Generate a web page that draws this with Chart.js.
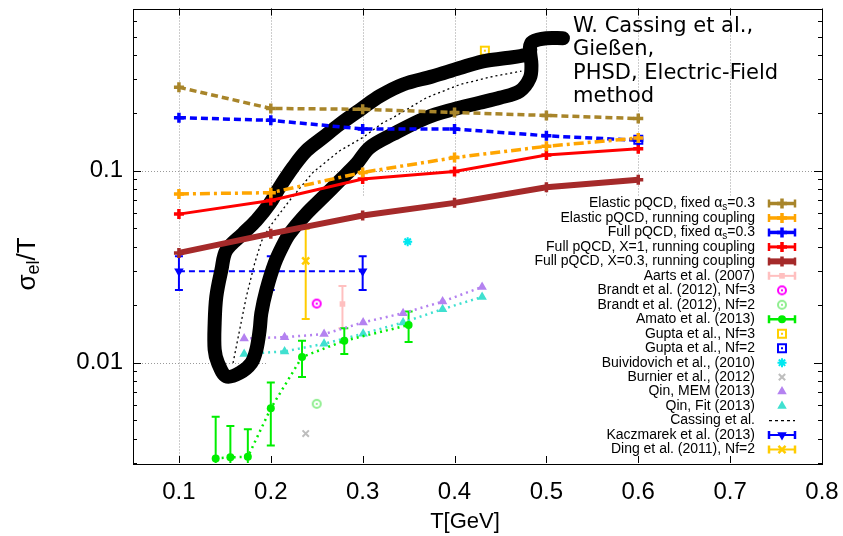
<!DOCTYPE html>
<html><head><meta charset="utf-8">
<script src="https://cdn.jsdelivr.net/npm/chart.js@4/dist/chart.umd.min.js"></script>
<style>html,body{margin:0;padding:0;background:#fff}#wrap{width:843px;height:536px}</style>
</head><body><div id="wrap"><canvas id="c" width="843" height="536"></canvas></div>
<script>
// Axis ticks
const xTicks = [0.1, 0.2, 0.3, 0.4, 0.5, 0.6, 0.7, 0.8];
const yTicks = [0.01, 0.1];

// pQCD curves
const pqcdT = [0.1, 0.2, 0.3, 0.4, 0.5, 0.6];
const elasticFixed   = [0.272, 0.211, 0.209, 0.201, 0.194, 0.187];
const elasticRunning = [0.0757, 0.0768, 0.098, 0.117, 0.134, 0.148];
const fullFixed      = [0.189, 0.183, 0.165, 0.165, 0.152, 0.144];
const fullX1         = [0.0594, 0.0699, 0.0906, 0.099, 0.1206, 0.130];
const fullX03        = [0.0373, 0.047, 0.0584, 0.068, 0.082, 0.0898];

// Lattice and other results
const aartsT = [0.278], aartsV = [0.0202], aartsLo = [0.0151], aartsHi = [0.0251];
const brandt3T = [0.25], brandt3V = [0.0203];
const brandt2T = [0.25], brandt2V = [0.0061];
const amatoT  = [0.14, 0.156, 0.175, 0.2, 0.234, 0.28, 0.35];
const amatoV  = [0.00317, 0.00321, 0.00323, 0.00578, 0.0107, 0.0130, 0.0157];
const amatoLo = [0.001, 0.001, 0.001, 0.0037, 0.00843, 0.0111, 0.0128];
const amatoHi = [0.00523, 0.00468, 0.0045, 0.00788, 0.0130, 0.0151, 0.01845];
const gupta3T = [0.433], gupta3V = [0.422];
const gupta2T = [0.6], gupta2V = [0.145];
const buiviT = [0.349], buiviV = [0.0427];
const burnierT = [0.238], burnierV = [0.00427];
const qinT = [0.171, 0.215, 0.258, 0.3005, 0.344, 0.387, 0.43];
const qinMem = [0.01336, 0.01358, 0.01408, 0.0162, 0.0181, 0.0208, 0.0248];
const qinFit = [0.0111, 0.01144, 0.01254, 0.01413, 0.0162, 0.019, 0.022];
const cassingT = [0.1589, 0.1661, 0.1734, 0.1824, 0.19, 0.1987, 0.2205, 0.2459, 0.275, 0.3003, 0.3222, 0.333, 0.3694, 0.4056, 0.4419, 0.4728];
const cassingV = [0.00996, 0.01483, 0.0221, 0.0329, 0.043, 0.051, 0.07, 0.098, 0.127, 0.149, 0.178, 0.189, 0.24, 0.281, 0.31, 0.33];
const kaczT = [0.1, 0.2, 0.3], kaczV = [0.0299, 0.0299, 0.0299], kaczLo = [0.0239, 0.0239, 0.0239], kaczHi = [0.0358, 0.0358, 0.0358];
const dingT = [0.238], dingV = [0.0339], dingLo = [0.0169], dingHi = [0.0499];

// PHSD electric-field band (outline, tail first)
const bandT = [0.518, 0.5, 0.485, 0.482, 0.4837, 0.482, 0.471, 0.4492, 0.4274, 0.3983, 0.3694, 0.333, 0.3076, 0.2931, 0.275, 0.2568, 0.2387, 0.2205, 0.2132, 0.2042, 0.1952, 0.1897, 0.1879, 0.1843, 0.1788, 0.1661, 0.1516, 0.1425, 0.1389, 0.1389, 0.1407, 0.1462, 0.1516, 0.1697, 0.1843, 0.1987, 0.2096, 0.2241, 0.2387, 0.2568, 0.275, 0.3003, 0.3185, 0.3439, 0.3765, 0.4056, 0.431, 0.4564, 0.4782, 0.4825];
const bandV = [0.49, 0.49, 0.47, 0.435, 0.357, 0.304, 0.26, 0.24, 0.226, 0.2087, 0.1889, 0.155, 0.132, 0.1083, 0.0888, 0.0727, 0.0597, 0.047, 0.0409, 0.0329, 0.0239, 0.0181, 0.01483, 0.01168, 0.00996, 0.00884, 0.00849, 0.00996, 0.01168, 0.0161, 0.0221, 0.0303, 0.0385, 0.047, 0.0551, 0.0672, 0.082, 0.104, 0.127, 0.1488, 0.1746, 0.2128, 0.2446, 0.2813, 0.3106, 0.343, 0.3715, 0.3864, 0.4025, 0.425];

const annotationLines = ['W. Cassing et al.,', 'Gießen,', 'PHSD, Electric-Field', 'method'];

const pts = (xs, ys) => xs.map((x, i) => ({x: x, y: ys[i]}));

function ringMarker(color, square) {
  const c = document.createElement('canvas');
  c.width = 12; c.height = 12;
  const g = c.getContext('2d');
  g.strokeStyle = color; g.fillStyle = color; g.lineWidth = 2;
  if (square) { g.strokeRect(2, 2, 8, 8); }
  else { g.beginPath(); g.arc(6, 6, 4, 0, Math.PI * 2); g.stroke(); }
  g.fillRect(5, 5, 2, 2);
  return c;
}

const FONT = "'Liberation Sans', Arial, Helvetica, sans-serif";

function lineSet(label, xs, ys, color, width, dash, extra) {
  return Object.assign({
    label: label, data: pts(xs, ys), showLine: true,
    borderColor: color, backgroundColor: color, borderWidth: width, borderDash: dash,
    pointStyle: 'cross', pointRadius: 5, pointBorderWidth: 3.5,
    pointBorderColor: color, pointBackgroundColor: color,
    keyLine: true, keyCaps: true, order: 0
  }, extra || {});
}
function markSet(label, xs, ys, color, style, radius, bw, extra) {
  return Object.assign({
    label: label, data: pts(xs, ys), showLine: false,
    borderColor: color, backgroundColor: color,
    pointStyle: style, pointRadius: radius, pointBorderWidth: bw,
    pointBorderColor: color, pointBackgroundColor: color,
    keyLine: false, keyCaps: false, order: 2
  }, extra || {});
}

const datasets = [
  lineSet('Elastic pQCD, fixed α_{s}=0.3', pqcdT, elasticFixed, '#a8852a', 3.5, [7, 4]),
  lineSet('Elastic pQCD, running coupling', pqcdT, elasticRunning, '#ffa500', 3.5, [10, 4, 3, 4]),
  lineSet('Full pQCD, fixed α_{s}=0.3', pqcdT, fullFixed, '#0000ff', 3.5, [7, 4]),
  lineSet('Full pQCD, X=1, running coupling', pqcdT, fullX1, '#ff0000', 3, []),
  lineSet('Full pQCD, X=0.3, running coupling', pqcdT, fullX03, '#a52a2a', 6, []),
  markSet('Aarts et al. (2007)', aartsT, aartsV, '#ffc0c0', 'rect', 4, 0, {errLo: aartsLo, errHi: aartsHi, keyLine: true, keyCaps: true}),
  markSet('Brandt et al. (2012), Nf=3', brandt3T, brandt3V, '#ff00ff', ringMarker('#ff00ff', false), 5, 0),
  markSet('Brandt et al. (2012), Nf=2', brandt2T, brandt2V, '#90ee90', ringMarker('#90ee90', false), 5, 0),
  markSet('Amato et al. (2013)', amatoT, amatoV, '#00ee00', 'circle', 4, 0,
          {showLine: true, borderWidth: 2.5, borderDash: [2, 4], errLo: amatoLo, errHi: amatoHi, keyLine: true, keyCaps: true}),
  markSet('Gupta et al., Nf=3', gupta3T, gupta3V, '#ffd000', ringMarker('#ffd000', true), 5, 0),
  markSet('Gupta et al., Nf=2', gupta2T, gupta2V, '#0000ff', ringMarker('#0000ff', true), 5, 0),
  markSet('Buividovich et al., (2010)', buiviT, buiviV, '#00e8f0', 'star', 4.5, 2),
  markSet('Burnier et al., (2012)', burnierT, burnierV, '#bebebe', 'crossRot', 4.5, 2),
  markSet('Qin, MEM (2013)', qinT, qinMem, '#b482f0', 'triangle', 5.5, 0,
          {showLine: true, borderWidth: 2.5, borderDash: [2, 4]}),
  markSet('Qin, Fit (2013)', qinT, qinFit, '#40e0d0', 'triangle', 5.5, 0,
          {showLine: true, borderWidth: 2.5, borderDash: [2, 4]}),
  {label: 'Cassing et al.', data: pts(cassingT, cassingV), showLine: true, borderColor: '#000',
   borderWidth: 1.3, borderDash: [2, 3], pointRadius: 0, keyLine: true, keyCaps: false, keyDotted: true, order: 0},
  markSet('Kaczmarek et al. (2013)', kaczT, kaczV, '#0000ff', 'triangle', 5.5, 0,
          {showLine: true, borderWidth: 2, borderDash: [6, 4], pointRotation: 180, errLo: kaczLo, errHi: kaczHi, keyLine: true, keyCaps: true}),
  markSet('Ding et al. (2011), Nf=2', dingT, dingV, '#ffcc00', 'crossRot', 5, 2.5,
          {errLo: dingLo, errHi: dingHi, keyLine: true, keyCaps: true}),
  {label: 'PHSD band', data: pts(bandT, bandV), showLine: true, borderColor: '#000', borderWidth: 14,
   borderCapStyle: 'round', borderJoinStyle: 'round', tension: 0.35, pointRadius: 0, noKey: true, order: 1}
];

// key box region (opaque background of the key, hides grid beneath it)
const KEY_BOX = {left: 268, top: 197};

function drawRich(ctx, text, xRight, y, size) {
  const parts = [];
  const re = /_\{([^}]*)\}/g; let last = 0, m;
  while ((m = re.exec(text))) { parts.push({t: text.slice(last, m.index), sub: false}); parts.push({t: m[1], sub: true}); last = re.lastIndex; }
  parts.push({t: text.slice(last), sub: false});
  const subSize = Math.round(size * 0.72);
  let w = 0;
  parts.forEach(p => { ctx.font = (p.sub ? subSize : size) + 'px ' + FONT; p.w = ctx.measureText(p.t).width; w += p.w; });
  let x = xRight - w;
  ctx.textAlign = 'left'; ctx.textBaseline = 'middle';
  parts.forEach(p => { ctx.font = (p.sub ? subSize : size) + 'px ' + FONT; ctx.fillText(p.t, x, y + (p.sub ? size * 0.3 : 0)); x += p.w; });
}

const framePlugin = {
  id: 'frame',
  beforeDatasetsDraw(chart) {
    const {ctx, chartArea: a, scales: {x, y}} = chart;
    ctx.save();
    ctx.strokeStyle = '#9a9a9a'; ctx.lineWidth = 1; ctx.setLineDash([1, 2]);
    xTicks.forEach(v => { const px = Math.round(x.getPixelForValue(v)) + 0.5; if (px < a.right - 1) { ctx.beginPath(); ctx.moveTo(px, a.top); ctx.lineTo(px, a.bottom); ctx.stroke(); } });
    yTicks.forEach(v => { const py = Math.round(y.getPixelForValue(v)) + 0.5; ctx.beginPath(); ctx.moveTo(a.left, py); ctx.lineTo(a.right, py); ctx.stroke(); });
    ctx.setLineDash([]);
    ctx.fillStyle = '#fff';
    ctx.fillRect(KEY_BOX.left, KEY_BOX.top, a.right - KEY_BOX.left, a.bottom - KEY_BOX.top);
    // error bars
    ctx.beginPath(); ctx.rect(a.left, a.top, a.right - a.left, a.bottom - a.top); ctx.clip();
    chart.data.datasets.forEach((ds, i) => {
      if (!ds.errLo) return;
      const meta = chart.getDatasetMeta(i);
      ctx.strokeStyle = ds.borderColor; ctx.lineWidth = 2;
      meta.data.forEach((el, j) => {
        const y0 = y.getPixelForValue(ds.errLo[j]), y1 = y.getPixelForValue(ds.errHi[j]);
        ctx.beginPath(); ctx.moveTo(el.x, y0); ctx.lineTo(el.x, y1);
        ctx.moveTo(el.x - 4, y0); ctx.lineTo(el.x + 4, y0);
        ctx.moveTo(el.x - 4, y1); ctx.lineTo(el.x + 4, y1);
        ctx.stroke();
      });
    });
    ctx.restore();
  },
  afterDatasetsDraw(chart) {
    const {ctx, chartArea: a, scales: {x, y}} = chart;
    ctx.save();
    // frame
    ctx.strokeStyle = '#000'; ctx.lineWidth = 1;
    ctx.strokeRect(Math.round(a.left) + 0.5, Math.round(a.top) + 0.5, Math.round(a.right - a.left), Math.round(a.bottom - a.top));
    // inward ticks
    ctx.beginPath();
    xTicks.forEach(v => { const px = Math.round(x.getPixelForValue(v)) + 0.5; ctx.moveTo(px, a.bottom); ctx.lineTo(px, a.bottom - 7); ctx.moveTo(px, a.top); ctx.lineTo(px, a.top + 7); });
    for (let e = -3; e <= -1; e++) {
      for (let k = 1; k <= 9; k++) {
        const v = k * Math.pow(10, e);
        if (v < y.min || v > y.max) continue;
        const py = Math.round(y.getPixelForValue(v)) + 0.5;
        const len = k === 1 ? 8 : 4;
        ctx.moveTo(a.left, py); ctx.lineTo(a.left + len, py);
        ctx.moveTo(a.right, py); ctx.lineTo(a.right - len, py);
      }
    }
    ctx.stroke();

    // key
    const keyTextRight = 755, s0 = 769, s1 = 795, sm = 782;
    let row = 0;
    chart.data.datasets.forEach((ds, i) => {
      if (ds.noKey) return;
      const ky = 203.5 + row * 14.47; row++;
      ctx.fillStyle = '#000';
      drawRich(ctx, ds.label, keyTextRight, ky, 14);
      ctx.strokeStyle = ds.borderColor;
      if (ds.keyLine) {
        ctx.lineWidth = ds.keyDotted ? 1.3 : Math.min(ds.borderWidth || 2, 6);
        ctx.setLineDash(ds.keyDotted ? [3, 3] : []);
        ctx.beginPath(); ctx.moveTo(s0, ky); ctx.lineTo(s1, ky); ctx.stroke();
        ctx.setLineDash([]);
      }
      if (ds.keyCaps) {
        ctx.lineWidth = 2.5;
        ctx.beginPath(); ctx.moveTo(s0, ky - 4); ctx.lineTo(s0, ky + 4); ctx.moveTo(s1, ky - 4); ctx.lineTo(s1, ky + 4); ctx.stroke();
      }
      if (ds.pointRadius) {
        ctx.fillStyle = ds.pointBackgroundColor; ctx.strokeStyle = ds.pointBorderColor;
        ctx.lineWidth = ds.pointBorderWidth || 1;
        Chart.helpers.drawPoint(ctx, {pointStyle: ds.pointStyle, rotation: ds.pointRotation || 0, radius: ds.pointRadius, borderWidth: ds.pointBorderWidth || 0}, sm, ky);
      }
    });

    // band annotation
    ctx.fillStyle = '#000'; ctx.font = "21px 'DejaVu Sans', sans-serif"; ctx.textAlign = 'left'; ctx.textBaseline = 'middle';
    annotationLines.forEach((t, i) => ctx.fillText(t, 573, 26.5 + i * 23.5));

    // axis titles
    ctx.font = "22px " + FONT; ctx.textAlign = 'center';
    ctx.fillText('T[GeV]', 465, 522);
    ctx.textAlign = 'left';
    ctx.translate(28, 264); ctx.rotate(-Math.PI / 2);
    const big = "26px " + FONT, small = "18px " + FONT;
    ctx.font = big; const wS = ctx.measureText('σ').width;
    ctx.font = small; const wE = ctx.measureText('el').width;
    ctx.font = big; const wT = ctx.measureText('/T').width;
    let tx = -(wS + wE + wT) / 2;
    ctx.font = big; ctx.fillText('σ', tx, 0); tx += wS;
    ctx.font = small; ctx.fillText('el', tx, 6); tx += wE;
    ctx.font = big; ctx.fillText('/T', tx, 0);
    ctx.restore();
  }
};

const noOverhang = s => { s.paddingTop = 0; s.paddingBottom = 0; s.paddingLeft = 0; s.paddingRight = 0; };

new Chart(document.getElementById('c'), {
  type: 'scatter',
  data: {datasets: datasets},
  options: {
    responsive: false, animation: false, devicePixelRatio: 1,
    layout: {padding: {left: 0, right: 21, top: 8, bottom: 0}},
    plugins: {legend: {display: false}, tooltip: {enabled: false}},
    elements: {line: {tension: 0}},
    scales: {
      x: {
        type: 'linear', min: 0.05, max: 0.8,
        afterBuildTicks: s => { s.ticks = xTicks.map(v => ({value: v})); },
        afterFit: s => { s.height = 73; noOverhang(s); },
        ticks: {callback: v => v.toFixed(1), font: {family: FONT, size: 24}, color: '#000', padding: 15, autoSkip: false, maxRotation: 0},
        grid: {display: false, drawTicks: false}, border: {display: false}
      },
      y: {
        type: 'logarithmic', min: 0.003, max: 0.7,
        afterBuildTicks: s => { s.ticks = yTicks.map(v => ({value: v})); },
        afterFit: s => { s.width = 133; noOverhang(s); },
        ticks: {callback: v => String(v), font: {family: FONT, size: 24}, color: '#000', padding: 10},
        grid: {display: false, drawTicks: false}, border: {display: false}
      }
    }
  },
  plugins: [framePlugin]
});
</script></body></html>
